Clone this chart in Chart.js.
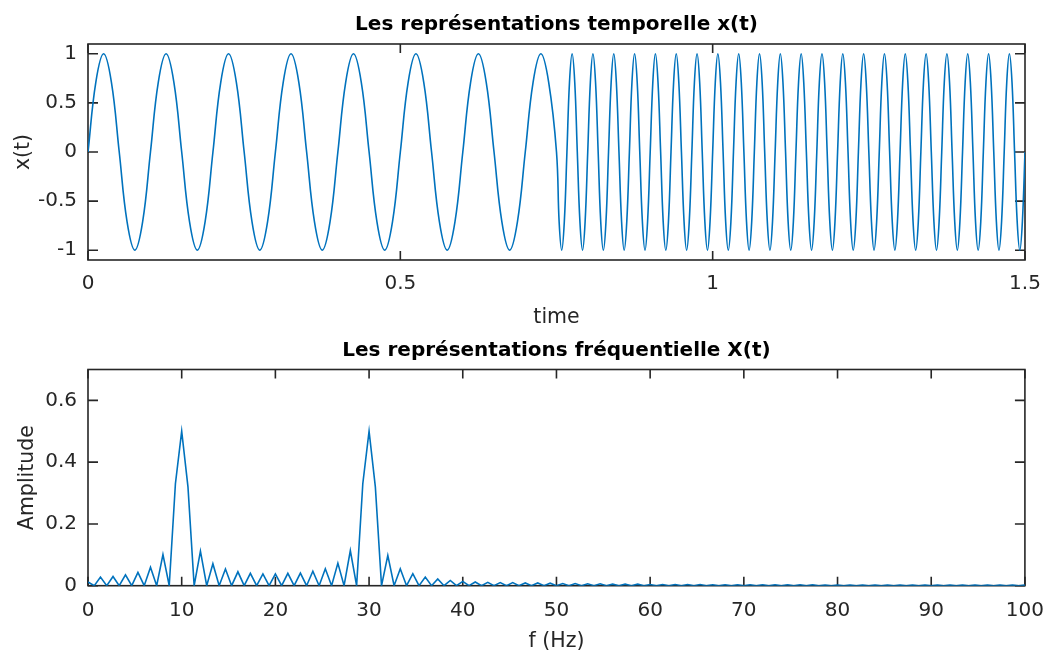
<!DOCTYPE html>
<html lang="fr">
<head>
  <meta charset="UTF-8" />
  <title>Représentations temporelle et fréquentielle</title>
  <style>
    body { margin: 0; background: #fff; }
    #wrap { position: relative; width: 1044px; height: 655px; }
    .panel { position: absolute; left: 0; width: 1044px; }
    #topPanel { top: 0; height: 335px; }
    #bottomPanel { top: 335px; height: 320px; }
  </style>
</head>
<body>
  <div id="wrap">
    <div class="panel" id="topPanel"><canvas id="timeChart"></canvas></div>
    <div class="panel" id="bottomPanel"><canvas id="freqChart"></canvas></div>
  </div>

  <script src="https://cdn.jsdelivr.net/npm/chart.js"></script>
  <script>
    const timeSec = [
      0, 0.0125, 0.025, 0.0375, 0.05, 0.0625, 0.075, 0.0875,
      0.1, 0.1125, 0.125, 0.1375, 0.15, 0.1625, 0.175, 0.1875,
      0.2, 0.2125, 0.225, 0.2375, 0.25, 0.2625, 0.275, 0.2875,
      0.3, 0.3125, 0.325, 0.3375, 0.35, 0.3625, 0.375, 0.3875,
      0.4, 0.4125, 0.425, 0.4375, 0.45, 0.4625, 0.475, 0.4875,
      0.5, 0.5125, 0.525, 0.5375, 0.55, 0.5625, 0.575, 0.5875,
      0.6, 0.6125, 0.625, 0.6375, 0.65, 0.6625, 0.675, 0.6875,
      0.7, 0.7125, 0.725, 0.7375, 0.75,
      0.7542, 0.7583, 0.7625, 0.7667, 0.7708, 0.775, 0.7792, 0.7833, 0.7875, 0.7917, 0.7958, 0.8,
      0.8042, 0.8083, 0.8125, 0.8167, 0.8208, 0.825, 0.8292, 0.8333, 0.8375, 0.8417, 0.8458, 0.85,
      0.8542, 0.8583, 0.8625, 0.8667, 0.8708, 0.875, 0.8792, 0.8833, 0.8875, 0.8917, 0.8958, 0.9,
      0.9042, 0.9083, 0.9125, 0.9167, 0.9208, 0.925, 0.9292, 0.9333, 0.9375, 0.9417, 0.9458, 0.95,
      0.9542, 0.9583, 0.9625, 0.9667, 0.9708, 0.975, 0.9792, 0.9833, 0.9875, 0.9917, 0.9958, 1.0,
      1.0042, 1.0083, 1.0125, 1.0167, 1.0208, 1.025, 1.0292, 1.0333, 1.0375, 1.0417, 1.0458, 1.05,
      1.0542, 1.0583, 1.0625, 1.0667, 1.0708, 1.075, 1.0792, 1.0833, 1.0875, 1.0917, 1.0958, 1.1,
      1.1042, 1.1083, 1.1125, 1.1167, 1.1208, 1.125, 1.1292, 1.1333, 1.1375, 1.1417, 1.1458, 1.15,
      1.1542, 1.1583, 1.1625, 1.1667, 1.1708, 1.175, 1.1792, 1.1833, 1.1875, 1.1917, 1.1958, 1.2,
      1.2042, 1.2083, 1.2125, 1.2167, 1.2208, 1.225, 1.2292, 1.2333, 1.2375, 1.2417, 1.2458, 1.25,
      1.2542, 1.2583, 1.2625, 1.2667, 1.2708, 1.275, 1.2792, 1.2833, 1.2875, 1.2917, 1.2958, 1.3,
      1.3042, 1.3083, 1.3125, 1.3167, 1.3208, 1.325, 1.3292, 1.3333, 1.3375, 1.3417, 1.3458, 1.35,
      1.3542, 1.3583, 1.3625, 1.3667, 1.3708, 1.375, 1.3792, 1.3833, 1.3875, 1.3917, 1.3958, 1.4,
      1.4042, 1.4083, 1.4125, 1.4167, 1.4208, 1.425, 1.4292, 1.4333, 1.4375, 1.4417, 1.4458, 1.45,
      1.4542, 1.4583, 1.4625, 1.4667, 1.4708, 1.475, 1.4792, 1.4833, 1.4875, 1.4917, 1.4958, 1.5
    ];
    const signal = [
      0, 0.71, 1, 0.71, 0, -0.71, -1, -0.71,
      0, 0.71, 1, 0.71, 0, -0.71, -1, -0.71,
      0, 0.71, 1, 0.71, 0, -0.71, -1, -0.71,
      0, 0.71, 1, 0.71, 0, -0.71, -1, -0.71,
      0, 0.71, 1, 0.71, 0, -0.71, -1, -0.71,
      0, 0.71, 1, 0.71, 0, -0.71, -1, -0.71,
      0, 0.71, 1, 0.71, 0, -0.71, -1, -0.71,
      0, 0.71, 1, 0.71, 0,
      -0.71, -1, -0.71, 0, 0.71, 1, 0.71, 0, -0.71, -1, -0.71, 0,
      0.71, 1, 0.71, 0, -0.71, -1, -0.71, 0, 0.71, 1, 0.71, 0,
      -0.71, -1, -0.71, 0, 0.71, 1, 0.71, 0, -0.71, -1, -0.71, 0,
      0.71, 1, 0.71, 0, -0.71, -1, -0.71, 0, 0.71, 1, 0.71, 0,
      -0.71, -1, -0.71, 0, 0.71, 1, 0.71, 0, -0.71, -1, -0.71, 0,
      0.71, 1, 0.71, 0, -0.71, -1, -0.71, 0, 0.71, 1, 0.71, 0,
      -0.71, -1, -0.71, 0, 0.71, 1, 0.71, 0, -0.71, -1, -0.71, 0,
      0.71, 1, 0.71, 0, -0.71, -1, -0.71, 0, 0.71, 1, 0.71, 0,
      -0.71, -1, -0.71, 0, 0.71, 1, 0.71, 0, -0.71, -1, -0.71, 0,
      0.71, 1, 0.71, 0, -0.71, -1, -0.71, 0, 0.71, 1, 0.71, 0,
      -0.71, -1, -0.71, 0, 0.71, 1, 0.71, 0, -0.71, -1, -0.71, 0,
      0.71, 1, 0.71, 0, -0.71, -1, -0.71, 0, 0.71, 1, 0.71, 0,
      -0.71, -1, -0.71, 0, 0.71, 1, 0.71, 0, -0.71, -1, -0.71, 0,
      0.71, 1, 0.71, 0, -0.71, -1, -0.71, 0, 0.71, 1, 0.71, 0,
      -0.71, -1, -0.71, 0, 0.71, 1, 0.71, 0, -0.71, -1, -0.71, 0
    ];

    // spectre |X(f)|
    const freqHz = [
      0, 0.67, 1.33, 2, 2.67, 3.33, 4, 4.67, 5.33, 6, 6.67, 7.33, 8, 8.67, 9.33,
      10, 10.67, 11.33, 12, 12.67, 13.33, 14, 14.67, 15.33, 16, 16.67, 17.33, 18, 18.67, 19.33,
      20, 20.67, 21.33, 22, 22.67, 23.33, 24, 24.67, 25.33, 26, 26.67, 27.33, 28, 28.67, 29.33,
      30, 30.67, 31.33, 32, 32.67, 33.33, 34, 34.67, 35.33, 36, 36.67, 37.33, 38, 38.67, 39.33,
      40, 40.67, 41.33, 42, 42.67, 43.33, 44, 44.67, 45.33, 46, 46.67, 47.33, 48, 48.67, 49.33,
      50, 50.67, 51.33, 52, 52.67, 53.33, 54, 54.67, 55.33, 56, 56.67, 57.33, 58, 58.67, 59.33,
      60, 60.67, 61.33, 62, 62.67, 63.33, 64, 64.67, 65.33, 66, 66.67, 67.33, 68, 68.67, 69.33,
      70, 70.67, 71.33, 72, 72.67, 73.33, 74, 74.67, 75.33, 76, 76.67, 77.33, 78, 78.67, 79.33,
      80, 80.67, 81.33, 82, 82.67, 83.33, 84, 84.67, 85.33, 86, 86.67, 87.33, 88, 88.67, 89.33,
      90, 90.67, 91.33, 92, 92.67, 93.33, 94, 94.67, 95.33, 96, 96.67, 97.33, 98, 98.67, 99.33,
      100
    ];
    const amplitude = [
      0.012, 0, 0.028, 0, 0.030, 0, 0.035, 0, 0.043, 0, 0.060, 0, 0.101, 0, 0.330,
      0.500, 0.320, 0, 0.112, 0, 0.071, 0, 0.054, 0, 0.045, 0, 0.040, 0, 0.038, 0,
      0.038, 0, 0.040, 0, 0.041, 0, 0.047, 0, 0.055, 0, 0.073, 0, 0.114, 0, 0.330,
      0.500, 0.320, 0, 0.098, 0, 0.055, 0, 0.039, 0, 0.028, 0, 0.022, 0, 0.017, 0,
      0.014, 0, 0.012, 0, 0.011, 0, 0.010, 0, 0.010, 0, 0.009, 0, 0.009, 0, 0.008,
      0, 0.007, 0, 0.007, 0, 0.006, 0, 0.006, 0, 0.005, 0, 0.005, 0, 0.005, 0,
      0.004, 0, 0.004, 0, 0.004, 0, 0.004, 0, 0.004, 0, 0.003, 0, 0.003, 0, 0.003,
      0, 0.003, 0, 0.003, 0, 0.003, 0, 0.003, 0, 0.003, 0, 0.003, 0, 0.002, 0,
      0.002, 0, 0.002, 0, 0.002, 0, 0.002, 0, 0.002, 0, 0.002, 0, 0.002, 0, 0.002,
      0, 0.002, 0, 0.002, 0, 0.002, 0, 0.002, 0, 0.002, 0, 0.002, 0, 0.002, 0, 0.002
    ];

    const timeTicks = [0, 0.5, 1, 1.5];
    const timeTickLabels = ['0', '0.5', '1', '1.5'];
    const xtTicks = [-1, -0.5, 0, 0.5, 1];
    const xtTickLabels = ['-1', '-0.5', '0', '0.5', '1'];
    const freqTicks = [0, 10, 20, 30, 40, 50, 60, 70, 80, 90, 100];
    const freqTickLabels = ['0', '10', '20', '30', '40', '50', '60', '70', '80', '90', '100'];
    const ampTicks = [0, 0.2, 0.4, 0.6];
    const ampTickLabels = ['0', '0.2', '0.4', '0.6'];

    const lineBlue = '#0072BD';
    const axisGrey = '#262626';
    const fontName = "'DejaVu Sans', sans-serif";

    Chart.defaults.font.family = fontName;
    Chart.defaults.font.size = 20;
    Chart.defaults.color = axisGrey;

    // boite MATLAB : cadre, graduations vers l'interieur, titre centre sur la zone du trace
    const matlabBox = {
      id: 'matlabBox',
      beforeDatasetsDraw(chart, args, opts) {
        const { ctx, chartArea: a, scales } = chart;
        ctx.save();
        ctx.strokeStyle = axisGrey;
        ctx.lineWidth = 1.6;
        ctx.strokeRect(a.left, a.top, a.right - a.left, a.bottom - a.top);
        ctx.beginPath();
        scales.x.ticks.forEach(t => {
          const px = scales.x.getPixelForValue(t.value);
          ctx.moveTo(px, a.bottom); ctx.lineTo(px, a.bottom - 9);
          ctx.moveTo(px, a.top); ctx.lineTo(px, a.top + 9);
        });
        scales.y.ticks.forEach(t => {
          const py = scales.y.getPixelForValue(t.value);
          ctx.moveTo(a.left, py); ctx.lineTo(a.left + 10, py);
          ctx.moveTo(a.right, py); ctx.lineTo(a.right - 10, py);
        });
        ctx.stroke();

        ctx.fillStyle = '#000';
        ctx.font = 'bold 20px ' + fontName;
        ctx.textAlign = 'center';
        ctx.textBaseline = 'middle';
        ctx.fillText(opts.text, (a.left + a.right) / 2, opts.y);
        ctx.restore();
      }
    };

    function makeChart(id, cfg) {
      return new Chart(document.getElementById(id), {
        type: 'line',
        data: {
          datasets: [{
            data: cfg.xs.map((v, i) => ({ x: v, y: cfg.ys[i] })),
            borderColor: lineBlue,
            borderWidth: 1.6,
            pointRadius: 0,
            tension: cfg.tension,
            fill: false
          }]
        },
        options: {
          responsive: true,
          maintainAspectRatio: false,
          animation: false,
          events: [],
          layout: { padding: { top: cfg.areaTop, left: 0, right: 19, bottom: 0 } },
          plugins: {
            legend: { display: false },
            tooltip: { enabled: false },
            title: { display: false },
            matlabBox: { text: cfg.title, y: cfg.titleY }
          },
          scales: {
            x: {
              type: 'linear',
              min: cfg.xMin, max: cfg.xMax,
              grid: { display: false, drawTicks: false },
              border: { display: false },
              afterBuildTicks: s => { s.ticks = cfg.xTicks.map(v => ({ value: v })); },
              afterFit: s => { s.height = cfg.xAxisH; },
              ticks: { autoSkip: false, maxRotation: 0, padding: 0,
                       font: { size: 20, lineHeight: cfg.xLabelLH },
                       callback: (v, i) => cfg.xLabels[i] },
              title: { display: true, text: cfg.xTitle, font: { size: 20.5 },
                       padding: { top: 0, bottom: cfg.xTitlePad } }
            },
            y: {
              min: cfg.yMin, max: cfg.yMax,
              grid: { display: false, drawTicks: false },
              border: { display: false },
              afterBuildTicks: s => { s.ticks = cfg.yTicks.map(v => ({ value: v })); },
              afterFit: s => { s.width = 88; },
              ticks: { autoSkip: false, padding: 11, callback: (v, i) => cfg.yLabels[i] },
              title: { display: true, text: cfg.yTitle, font: { size: 20.5 },
                       padding: { top: cfg.yTitlePad, bottom: 0 } }
            }
          }
        },
        plugins: [matlabBox]
      });
    }

    makeChart('timeChart', {
      xs: timeSec, ys: signal, tension: 0.4,
      title: 'Les représentations temporelle x(t)', titleY: 25, areaTop: 44,
      xMin: 0, xMax: 1.5, xTicks: timeTicks, xLabels: timeTickLabels,
      xAxisH: 75, xLabelLH: 2.4, xTitle: 'time', xTitlePad: 5,
      yMin: -1.1, yMax: 1.1, yTicks: xtTicks, yLabels: xtTickLabels,
      yTitle: 'x(t)', yTitlePad: 11
    });

    makeChart('freqChart', {
      xs: freqHz, ys: amplitude, tension: 0,
      title: 'Les représentations fréquentielle X(t)', titleY: 16, areaTop: 34.5,
      xMin: 0, xMax: 100, xTicks: freqTicks, xLabels: freqTickLabels,
      xAxisH: 69.3, xLabelLH: 2.53, xTitle: 'f (Hz)', xTitlePad: 1,
      yMin: 0, yMax: 0.7, yTicks: ampTicks, yLabels: ampTickLabels,
      yTitle: 'Amplitude', yTitlePad: 15
    });
  </script>
</body>
</html>
